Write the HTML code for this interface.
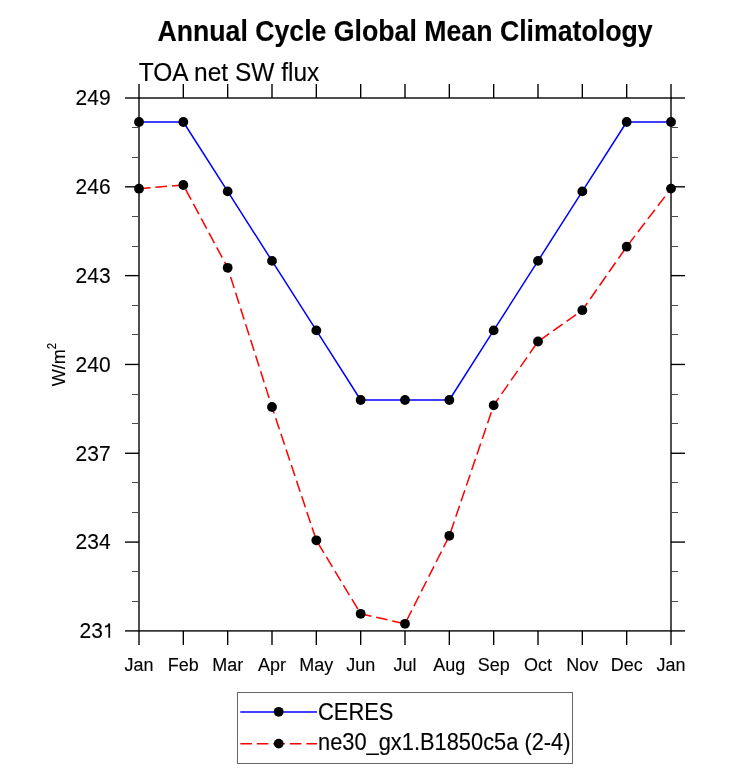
<!DOCTYPE html><html><head><meta charset="utf-8"><style>html,body{margin:0;padding:0;background:#fff;width:733px;height:784px;overflow:hidden}svg{display:block}text{font-family:"Liberation Sans",sans-serif;fill:#000;stroke:#000;stroke-width:0.12px}svg{will-change:transform}</style></head><body>
<svg width="733" height="784" viewBox="0 0 733 784">
<rect width="733" height="784" fill="#fff"/>
<text transform="translate(405.00,40.80) scale(1,1.09)" font-size="26.7" font-weight="700" text-anchor="middle">Annual Cycle Global Mean Climatology</text>
<text transform="translate(138.70,80.70) scale(1,1.055)" font-size="24.5" font-weight="400" text-anchor="start">TOA net SW flux</text>
<rect x="139.0" y="98.0" width="532.0" height="532.90" fill="none" stroke="#000" stroke-width="1.38"/>
<line x1="125" y1="98.00" x2="139.0" y2="98.00" stroke="#000" stroke-width="1.38"/>
<line x1="671.0" y1="98.00" x2="685" y2="98.00" stroke="#000" stroke-width="1.38"/>
<line x1="125" y1="186.82" x2="139.0" y2="186.82" stroke="#000" stroke-width="1.38"/>
<line x1="671.0" y1="186.82" x2="685" y2="186.82" stroke="#000" stroke-width="1.38"/>
<line x1="125" y1="275.63" x2="139.0" y2="275.63" stroke="#000" stroke-width="1.38"/>
<line x1="671.0" y1="275.63" x2="685" y2="275.63" stroke="#000" stroke-width="1.38"/>
<line x1="125" y1="364.45" x2="139.0" y2="364.45" stroke="#000" stroke-width="1.38"/>
<line x1="671.0" y1="364.45" x2="685" y2="364.45" stroke="#000" stroke-width="1.38"/>
<line x1="125" y1="453.27" x2="139.0" y2="453.27" stroke="#000" stroke-width="1.38"/>
<line x1="671.0" y1="453.27" x2="685" y2="453.27" stroke="#000" stroke-width="1.38"/>
<line x1="125" y1="542.08" x2="139.0" y2="542.08" stroke="#000" stroke-width="1.38"/>
<line x1="671.0" y1="542.08" x2="685" y2="542.08" stroke="#000" stroke-width="1.38"/>
<line x1="125" y1="630.90" x2="139.0" y2="630.90" stroke="#000" stroke-width="1.38"/>
<line x1="671.0" y1="630.90" x2="685" y2="630.90" stroke="#000" stroke-width="1.38"/>
<line x1="132" y1="601.50" x2="139.0" y2="601.50" stroke="#4a4a4a" stroke-width="1"/>
<line x1="671.0" y1="601.50" x2="678" y2="601.50" stroke="#4a4a4a" stroke-width="1"/>
<line x1="132" y1="571.50" x2="139.0" y2="571.50" stroke="#4a4a4a" stroke-width="1"/>
<line x1="671.0" y1="571.50" x2="678" y2="571.50" stroke="#4a4a4a" stroke-width="1"/>
<line x1="132" y1="512.50" x2="139.0" y2="512.50" stroke="#4a4a4a" stroke-width="1"/>
<line x1="671.0" y1="512.50" x2="678" y2="512.50" stroke="#4a4a4a" stroke-width="1"/>
<line x1="132" y1="482.50" x2="139.0" y2="482.50" stroke="#4a4a4a" stroke-width="1"/>
<line x1="671.0" y1="482.50" x2="678" y2="482.50" stroke="#4a4a4a" stroke-width="1"/>
<line x1="132" y1="423.50" x2="139.0" y2="423.50" stroke="#4a4a4a" stroke-width="1"/>
<line x1="671.0" y1="423.50" x2="678" y2="423.50" stroke="#4a4a4a" stroke-width="1"/>
<line x1="132" y1="394.50" x2="139.0" y2="394.50" stroke="#4a4a4a" stroke-width="1"/>
<line x1="671.0" y1="394.50" x2="678" y2="394.50" stroke="#4a4a4a" stroke-width="1"/>
<line x1="132" y1="334.50" x2="139.0" y2="334.50" stroke="#4a4a4a" stroke-width="1"/>
<line x1="671.0" y1="334.50" x2="678" y2="334.50" stroke="#4a4a4a" stroke-width="1"/>
<line x1="132" y1="305.50" x2="139.0" y2="305.50" stroke="#4a4a4a" stroke-width="1"/>
<line x1="671.0" y1="305.50" x2="678" y2="305.50" stroke="#4a4a4a" stroke-width="1"/>
<line x1="132" y1="246.50" x2="139.0" y2="246.50" stroke="#4a4a4a" stroke-width="1"/>
<line x1="671.0" y1="246.50" x2="678" y2="246.50" stroke="#4a4a4a" stroke-width="1"/>
<line x1="132" y1="216.50" x2="139.0" y2="216.50" stroke="#4a4a4a" stroke-width="1"/>
<line x1="671.0" y1="216.50" x2="678" y2="216.50" stroke="#4a4a4a" stroke-width="1"/>
<line x1="132" y1="157.50" x2="139.0" y2="157.50" stroke="#4a4a4a" stroke-width="1"/>
<line x1="671.0" y1="157.50" x2="678" y2="157.50" stroke="#4a4a4a" stroke-width="1"/>
<line x1="132" y1="127.50" x2="139.0" y2="127.50" stroke="#4a4a4a" stroke-width="1"/>
<line x1="671.0" y1="127.50" x2="678" y2="127.50" stroke="#4a4a4a" stroke-width="1"/>
<line x1="139.00" y1="84" x2="139.00" y2="98.0" stroke="#000" stroke-width="1.38"/>
<line x1="139.00" y1="630.9" x2="139.00" y2="645" stroke="#000" stroke-width="1.38"/>
<line x1="183.33" y1="84" x2="183.33" y2="98.0" stroke="#000" stroke-width="1.38"/>
<line x1="183.33" y1="630.9" x2="183.33" y2="645" stroke="#000" stroke-width="1.38"/>
<line x1="227.67" y1="84" x2="227.67" y2="98.0" stroke="#000" stroke-width="1.38"/>
<line x1="227.67" y1="630.9" x2="227.67" y2="645" stroke="#000" stroke-width="1.38"/>
<line x1="272.00" y1="84" x2="272.00" y2="98.0" stroke="#000" stroke-width="1.38"/>
<line x1="272.00" y1="630.9" x2="272.00" y2="645" stroke="#000" stroke-width="1.38"/>
<line x1="316.33" y1="84" x2="316.33" y2="98.0" stroke="#000" stroke-width="1.38"/>
<line x1="316.33" y1="630.9" x2="316.33" y2="645" stroke="#000" stroke-width="1.38"/>
<line x1="360.67" y1="84" x2="360.67" y2="98.0" stroke="#000" stroke-width="1.38"/>
<line x1="360.67" y1="630.9" x2="360.67" y2="645" stroke="#000" stroke-width="1.38"/>
<line x1="405.00" y1="84" x2="405.00" y2="98.0" stroke="#000" stroke-width="1.38"/>
<line x1="405.00" y1="630.9" x2="405.00" y2="645" stroke="#000" stroke-width="1.38"/>
<line x1="449.33" y1="84" x2="449.33" y2="98.0" stroke="#000" stroke-width="1.38"/>
<line x1="449.33" y1="630.9" x2="449.33" y2="645" stroke="#000" stroke-width="1.38"/>
<line x1="493.67" y1="84" x2="493.67" y2="98.0" stroke="#000" stroke-width="1.38"/>
<line x1="493.67" y1="630.9" x2="493.67" y2="645" stroke="#000" stroke-width="1.38"/>
<line x1="538.00" y1="84" x2="538.00" y2="98.0" stroke="#000" stroke-width="1.38"/>
<line x1="538.00" y1="630.9" x2="538.00" y2="645" stroke="#000" stroke-width="1.38"/>
<line x1="582.33" y1="84" x2="582.33" y2="98.0" stroke="#000" stroke-width="1.38"/>
<line x1="582.33" y1="630.9" x2="582.33" y2="645" stroke="#000" stroke-width="1.38"/>
<line x1="626.67" y1="84" x2="626.67" y2="98.0" stroke="#000" stroke-width="1.38"/>
<line x1="626.67" y1="630.9" x2="626.67" y2="645" stroke="#000" stroke-width="1.38"/>
<line x1="671.00" y1="84" x2="671.00" y2="98.0" stroke="#000" stroke-width="1.38"/>
<line x1="671.00" y1="630.9" x2="671.00" y2="645" stroke="#000" stroke-width="1.38"/>
<text transform="translate(110.60,105.40) scale(1,1.035)" font-size="21" font-weight="400" text-anchor="end">249</text>
<text transform="translate(110.60,194.22) scale(1,1.035)" font-size="21" font-weight="400" text-anchor="end">246</text>
<text transform="translate(110.60,283.03) scale(1,1.035)" font-size="21" font-weight="400" text-anchor="end">243</text>
<text transform="translate(110.60,371.85) scale(1,1.035)" font-size="21" font-weight="400" text-anchor="end">240</text>
<text transform="translate(110.60,460.67) scale(1,1.035)" font-size="21" font-weight="400" text-anchor="end">237</text>
<text transform="translate(110.60,549.48) scale(1,1.035)" font-size="21" font-weight="400" text-anchor="end">234</text>
<text transform="translate(102.90,638.30) scale(1,1.035)" font-size="21" font-weight="400" text-anchor="end">23</text>
<path d="M109.25,637.80 V623.45 C108.9,625.60 107.6,626.55 105.0,626.70" fill="none" stroke="#000" stroke-width="1.75"/>
<text transform="translate(139.00,670.80) scale(1,1.065)" font-size="18" font-weight="400" text-anchor="middle">Jan</text>
<text transform="translate(183.33,670.80) scale(1,1.065)" font-size="18" font-weight="400" text-anchor="middle">Feb</text>
<text transform="translate(227.67,670.80) scale(1,1.065)" font-size="18" font-weight="400" text-anchor="middle">Mar</text>
<text transform="translate(272.00,670.80) scale(1,1.065)" font-size="18" font-weight="400" text-anchor="middle">Apr</text>
<text transform="translate(316.33,670.80) scale(1,1.065)" font-size="18" font-weight="400" text-anchor="middle">May</text>
<text transform="translate(360.67,670.80) scale(1,1.065)" font-size="18" font-weight="400" text-anchor="middle">Jun</text>
<text transform="translate(405.00,670.80) scale(1,1.065)" font-size="18" font-weight="400" text-anchor="middle">Jul</text>
<text transform="translate(449.33,670.80) scale(1,1.065)" font-size="18" font-weight="400" text-anchor="middle">Aug</text>
<text transform="translate(493.67,670.80) scale(1,1.065)" font-size="18" font-weight="400" text-anchor="middle">Sep</text>
<text transform="translate(538.00,670.80) scale(1,1.065)" font-size="18" font-weight="400" text-anchor="middle">Oct</text>
<text transform="translate(582.33,670.80) scale(1,1.065)" font-size="18" font-weight="400" text-anchor="middle">Nov</text>
<text transform="translate(626.67,670.80) scale(1,1.065)" font-size="18" font-weight="400" text-anchor="middle">Dec</text>
<text transform="translate(671.00,670.80) scale(1,1.065)" font-size="18" font-weight="400" text-anchor="middle">Jan</text>
<text transform="translate(64.5,364.5) rotate(-90) scale(1,1.06)" font-size="18" text-anchor="middle">W/m<tspan font-size="11.5" dy="-7.6">2</tspan></text>
<polyline points="139.00,122.0 183.33,122.0 227.67,191.4 272.00,260.9 316.33,330.4 360.67,400.0 405.00,400.0 449.33,400.0 493.67,330.4 538.00,260.9 582.33,191.4 626.67,122.0 671.00,122.0" fill="none" stroke="#0000ff" stroke-width="1.5" stroke-linejoin="round"/>
<polyline points="139.00,188.7 183.33,185.0 227.67,267.8 272.00,407.0 316.33,540.3 360.67,613.8 405.00,623.8 449.33,535.8 493.67,405.3 538.00,341.5 582.33,310.2 626.67,246.7 671.00,188.6" fill="none" stroke="#ff0000" stroke-width="1.5" stroke-dasharray="11.6 4.86" stroke-linejoin="round"/>
<circle cx="139.00" cy="122.0" r="4.9"/>
<circle cx="183.33" cy="122.0" r="4.9"/>
<circle cx="227.67" cy="191.4" r="4.9"/>
<circle cx="272.00" cy="260.9" r="4.9"/>
<circle cx="316.33" cy="330.4" r="4.9"/>
<circle cx="360.67" cy="400.0" r="4.9"/>
<circle cx="405.00" cy="400.0" r="4.9"/>
<circle cx="449.33" cy="400.0" r="4.9"/>
<circle cx="493.67" cy="330.4" r="4.9"/>
<circle cx="538.00" cy="260.9" r="4.9"/>
<circle cx="582.33" cy="191.4" r="4.9"/>
<circle cx="626.67" cy="122.0" r="4.9"/>
<circle cx="671.00" cy="122.0" r="4.9"/>
<circle cx="139.00" cy="188.7" r="4.9"/>
<circle cx="183.33" cy="185.0" r="4.9"/>
<circle cx="227.67" cy="267.8" r="4.9"/>
<circle cx="272.00" cy="407.0" r="4.9"/>
<circle cx="316.33" cy="540.3" r="4.9"/>
<circle cx="360.67" cy="613.8" r="4.9"/>
<circle cx="405.00" cy="623.8" r="4.9"/>
<circle cx="449.33" cy="535.8" r="4.9"/>
<circle cx="493.67" cy="405.3" r="4.9"/>
<circle cx="538.00" cy="341.5" r="4.9"/>
<circle cx="582.33" cy="310.2" r="4.9"/>
<circle cx="626.67" cy="246.7" r="4.9"/>
<circle cx="671.00" cy="188.6" r="4.9"/>
<rect x="237.5" y="692.5" width="335" height="71" fill="none" stroke="#000" stroke-width="1" opacity="0.6"/>
<line x1="240.3" y1="712" x2="317" y2="712" stroke="#0000ff" stroke-width="1.5"/>
<circle cx="278.7" cy="711.8" r="4.9"/>
<line x1="240.3" y1="743.7" x2="317" y2="743.7" stroke="#ff0000" stroke-width="1.5" stroke-dasharray="11.6 4.9"/>
<circle cx="278.7" cy="743.6" r="4.9"/>
<text transform="translate(318.00,719.50) scale(0.995,1.08)" font-size="22" font-weight="400" text-anchor="start">CERES</text>
<text transform="translate(318.00,750.00) scale(0.993,1.08)" font-size="22" font-weight="400" text-anchor="start">ne30_gx1.B1850c5a (2-4)</text>
</svg></body></html>
